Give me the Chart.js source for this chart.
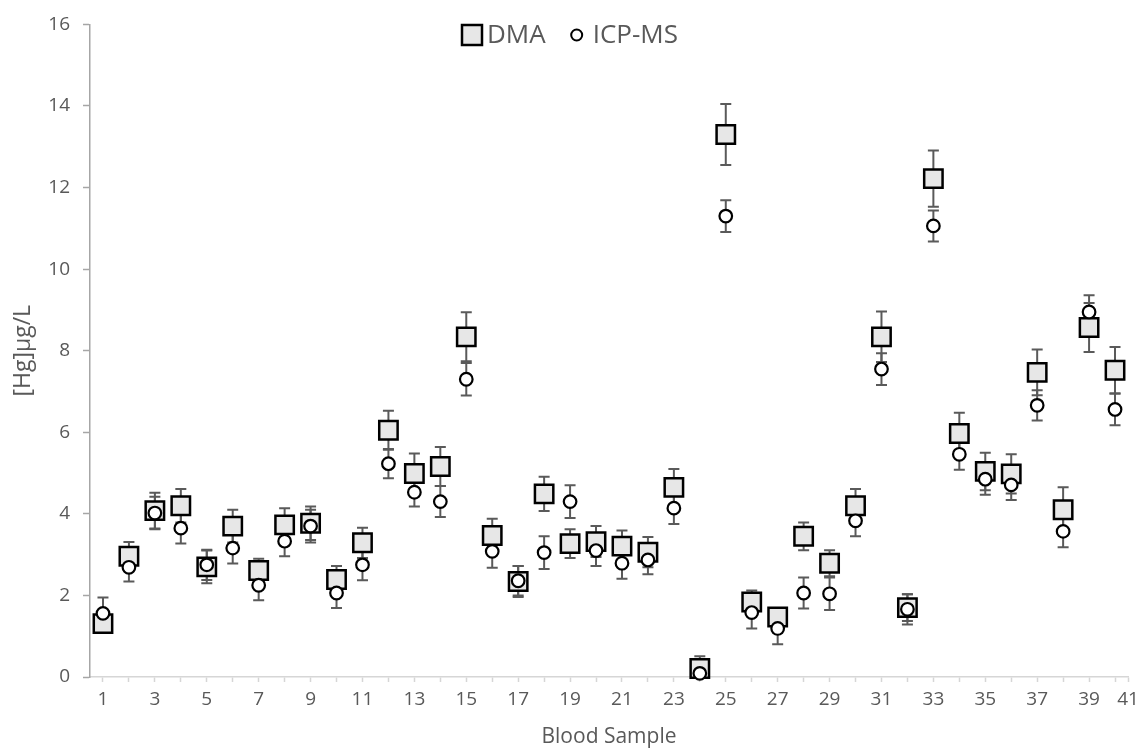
<!DOCTYPE html>
<html><head><meta charset="utf-8">
<script src="https://cdn.jsdelivr.net/npm/chart.js@4.4.1/dist/chart.umd.min.js"></script>
<style>html,body{margin:0;padding:0;background:#fff;}</style>
</head><body>
<canvas id="c" width="1145" height="751" style="display:block;width:1145px;height:751px"></canvas>
<script>
const samples = [1,2,3,4,5,6,7,8,9,10,11,12,13,14,15,16,17,18,19,20,21,22,23,24,25,26,27,28,29,30,31,32,33,34,35,36,37,38,39,40];
const dmaValues = [1.31,2.96,4.08,4.20,2.70,3.70,2.61,3.73,3.77,2.39,3.29,6.05,4.99,5.16,8.34,3.47,2.34,4.49,3.27,3.32,3.21,3.06,4.65,0.21,13.30,1.84,1.47,3.45,2.79,4.20,8.34,1.70,12.22,5.97,5.04,4.98,7.47,4.10,8.57,7.52];
const dmaErrors = [0.23,0.35,0.44,0.41,0.40,0.40,0.29,0.41,0.41,0.33,0.37,0.48,0.49,0.48,0.60,0.41,0.38,0.42,0.35,0.38,0.38,0.37,0.45,0.30,0.75,0.28,0.22,0.34,0.32,0.41,0.62,0.33,0.69,0.51,0.46,0.48,0.56,0.55,0.60,0.57];
const icpValues = [1.56,2.69,4.02,3.65,2.75,3.16,2.25,3.33,3.70,2.06,2.75,5.23,4.53,4.30,7.30,3.08,2.36,3.05,4.30,3.10,2.79,2.87,4.14,0.09,11.30,1.58,1.19,2.06,2.04,3.83,7.55,1.66,11.06,5.46,4.85,4.71,6.66,3.57,8.95,6.56];
const icpErrors = [0.39,0.35,0.40,0.38,0.37,0.38,0.37,0.37,0.40,0.37,0.38,0.36,0.35,0.38,0.40,0.40,0.36,0.40,0.40,0.38,0.38,0.35,0.39,0.30,0.39,0.39,0.39,0.38,0.40,0.38,0.39,0.37,0.38,0.38,0.38,0.37,0.37,0.39,0.41,0.39];
const xTickValues = [1,2,3,4,5,6,7,8,9,10,11,12,13,14,15,16,17,18,19,20,21,22,23,24,25,26,27,28,29,30,31,32,33,34,35,36,37,38,39,40,40.5];
const xTickLabels = ['1','','3','','5','','7','','9','','11','','13','','15','','17','','19','','21','','23','','25','','27','','29','','31','','33','','35','','37','','39','','41'];
const seriesNames = ['DMA','ICP-MS'];

const FONT = "'Open Sans', 'DejaVu Sans', sans-serif";
const TEXT = '#595959';

const errorBars = {
  id: 'errorBars',
  beforeDatasetsDraw(chart) {
    const {ctx, chartArea, scales: {x, y}} = chart;
    ctx.save();
    ctx.beginPath();
    ctx.rect(chartArea.left, chartArea.top - 20, chartArea.right - chartArea.left, chartArea.bottom - chartArea.top + 20);
    ctx.clip();
    ctx.strokeStyle = '#5a5a5a';
    ctx.lineWidth = 2;
    chart.data.datasets.forEach(ds => {
      ds.data.forEach((pt, i) => {
        const e = ds.errors[i];
        const px = x.getPixelForValue(pt.x);
        const yt = y.getPixelForValue(pt.y + e);
        const yb = y.getPixelForValue(pt.y - e);
        ctx.beginPath();
        ctx.moveTo(px, yt); ctx.lineTo(px, yb);
        ctx.moveTo(px - 5.5, yt); ctx.lineTo(px + 5.5, yt);
        ctx.moveTo(px - 5.5, yb); ctx.lineTo(px + 5.5, yb);
        ctx.stroke();
      });
    });
    ctx.restore();
  }
};

const customLegend = {
  id: 'customLegend',
  afterDraw(chart) {
    const ctx = chart.ctx;
    const cy = 35;
    ctx.save();
    ctx.font = "26px " + FONT;
    ctx.textBaseline = 'middle';
    let x = 462;
    const d0 = chart.data.datasets[0];
    ctx.fillStyle = d0.backgroundColor;
    ctx.strokeStyle = d0.borderColor;
    ctx.lineWidth = 2.5;
    ctx.fillRect(x, cy - 10, 20, 20);
    ctx.strokeRect(x, cy - 10, 20, 20);
    x += 25;
    ctx.fillStyle = TEXT;
    ctx.textAlign = 'left';
    ctx.fillText(d0.label, x, cy + 1);
    x += ctx.measureText(d0.label).width + 25;
    const d1 = chart.data.datasets[1];
    ctx.beginPath();
    ctx.arc(x + 6, cy, 5.5, 0, Math.PI * 2);
    ctx.fillStyle = d1.backgroundColor;
    ctx.fill();
    ctx.lineWidth = 2;
    ctx.strokeStyle = d1.borderColor;
    ctx.stroke();
    x += 22;
    ctx.fillStyle = TEXT;
    ctx.fillText(d1.label, x, cy + 1);
    ctx.restore();
  }
};

const dmaData = samples.map((s, i) => ({x: s, y: dmaValues[i]}));
const icpData = samples.map((s, i) => ({x: s, y: icpValues[i]}));

new Chart(document.getElementById('c'), {
  type: 'scatter',
  data: {
    datasets: [
      {
        label: seriesNames[0], data: dmaData, errors: dmaErrors, order: 1,
        pointStyle: 'rect', pointRadius: 13, pointHoverRadius: 13,
        backgroundColor: '#e7e7e7', borderColor: '#000', borderWidth: 2.5, clip: false
      },
      {
        label: seriesNames[1], data: icpData, errors: icpErrors, order: 0,
        pointStyle: 'circle', pointRadius: 6.3, pointHoverRadius: 6.3,
        backgroundColor: '#fff', borderColor: '#000', borderWidth: 2.2, clip: false
      }
    ]
  },
  options: {
    responsive: false,
    animation: false,
    events: [],
    layout: {padding: {left: 0, right: 17, top: 22, bottom: 0}},
    plugins: {legend: {display: false}, tooltip: {enabled: false}},
    scales: {
      x: {
        type: 'linear', min: 0.5, max: 40.5,
        afterBuildTicks: s => { s.ticks = xTickValues.map(v => ({value: v})); },
        afterFit: s => { s.height = 74; },
        ticks: {
          autoSkip: false, maxRotation: 0, padding: 6,
          color: TEXT, font: {family: FONT, size: 19},
          callback: (v, i) => xTickLabels[i]
        },
        grid: {drawOnChartArea: false, drawTicks: true, tickLength: 5, tickColor: '#d6d6d6', tickWidth: 1.5},
        border: {display: true, color: '#d6d6d6', width: 1.5},
        title: {display: true, text: 'Blood Sample', color: TEXT, font: {family: FONT, size: 21}, padding: {top: 0, bottom: 1}}
      },
      y: {
        min: 0, max: 16,
        afterFit: s => { s.width = 90; },
        ticks: {stepSize: 2, padding: 13, color: TEXT, font: {family: FONT, size: 19}},
        grid: {drawOnChartArea: false, drawTicks: true, tickLength: 7, tickColor: '#a6a6a6', tickWidth: 1.5},
        border: {display: true, color: '#a6a6a6', width: 1.5},
        title: {display: true, text: '[Hg]µg/L', color: TEXT, font: {family: FONT, size: 23}, padding: {top: 10, bottom: 0}}
      }
    }
  },
  plugins: [errorBars, customLegend]
});
</script>
</body></html>
